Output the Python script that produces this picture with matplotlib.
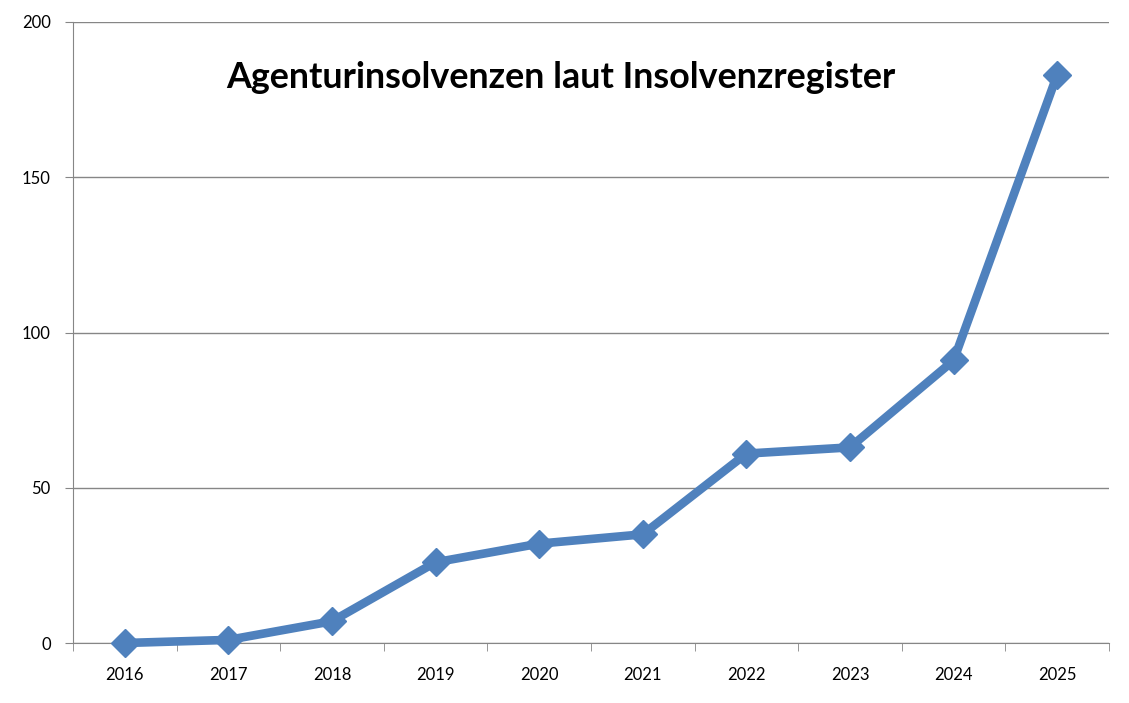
import numpy as np
from matplotlib import pyplot as plt

# Data
years = ["2016", "2017", "2018", "2019", "2020", "2021", "2022", "2023", "2024", "2025"]
insolvencies = [0, 1, 7, 26, 32, 35, 61, 63, 91, 183]

plt.rcParams['font.family'] = ['Lato', 'DejaVu Sans']

fig = plt.figure(figsize=(11.29, 7.03), dpi=100)
ax = fig.add_axes([73 / 1129, 60 / 703, 1036 / 1129, 621 / 703])

x = np.arange(len(years))
ax.plot(x, insolvencies, color="#4F81BD", linewidth=6.2, marker="D",
        markersize=14, solid_joinstyle="miter", clip_on=False, zorder=3)

ax.set_xlim(-0.5, len(years) - 0.5)
ax.set_ylim(0, 200)
ax.set_yticks([0, 50, 100, 150, 200])
ax.yaxis.grid(True, color="#868686", linewidth=1)
ax.set_axisbelow(True)

# category labels in the middle, tick marks between categories (excel style)
ax.set_xticks(x)
ax.set_xticklabels(years)
ax.set_xticks(np.arange(-0.5, len(years)), minor=True)
ax.tick_params(axis="x", which="major", length=0, pad=17, labelsize=12)
ax.tick_params(axis="x", which="minor", length=6, color="#868686", direction="out")
ax.tick_params(axis="y", length=6, color="#868686", pad=10, labelsize=12)

for side in ["top", "right"]:
    ax.spines[side].set_visible(False)
for side in ["left", "bottom"]:
    ax.spines[side].set_color("#868686")

fig.text(561 / 1129, 1 - 77 / 703, "Agenturinsolvenzen laut Insolvenzregister",
         ha="center", va="center", fontsize=25.8, fontweight="bold")

plt.savefig("out.png", dpi=100)
